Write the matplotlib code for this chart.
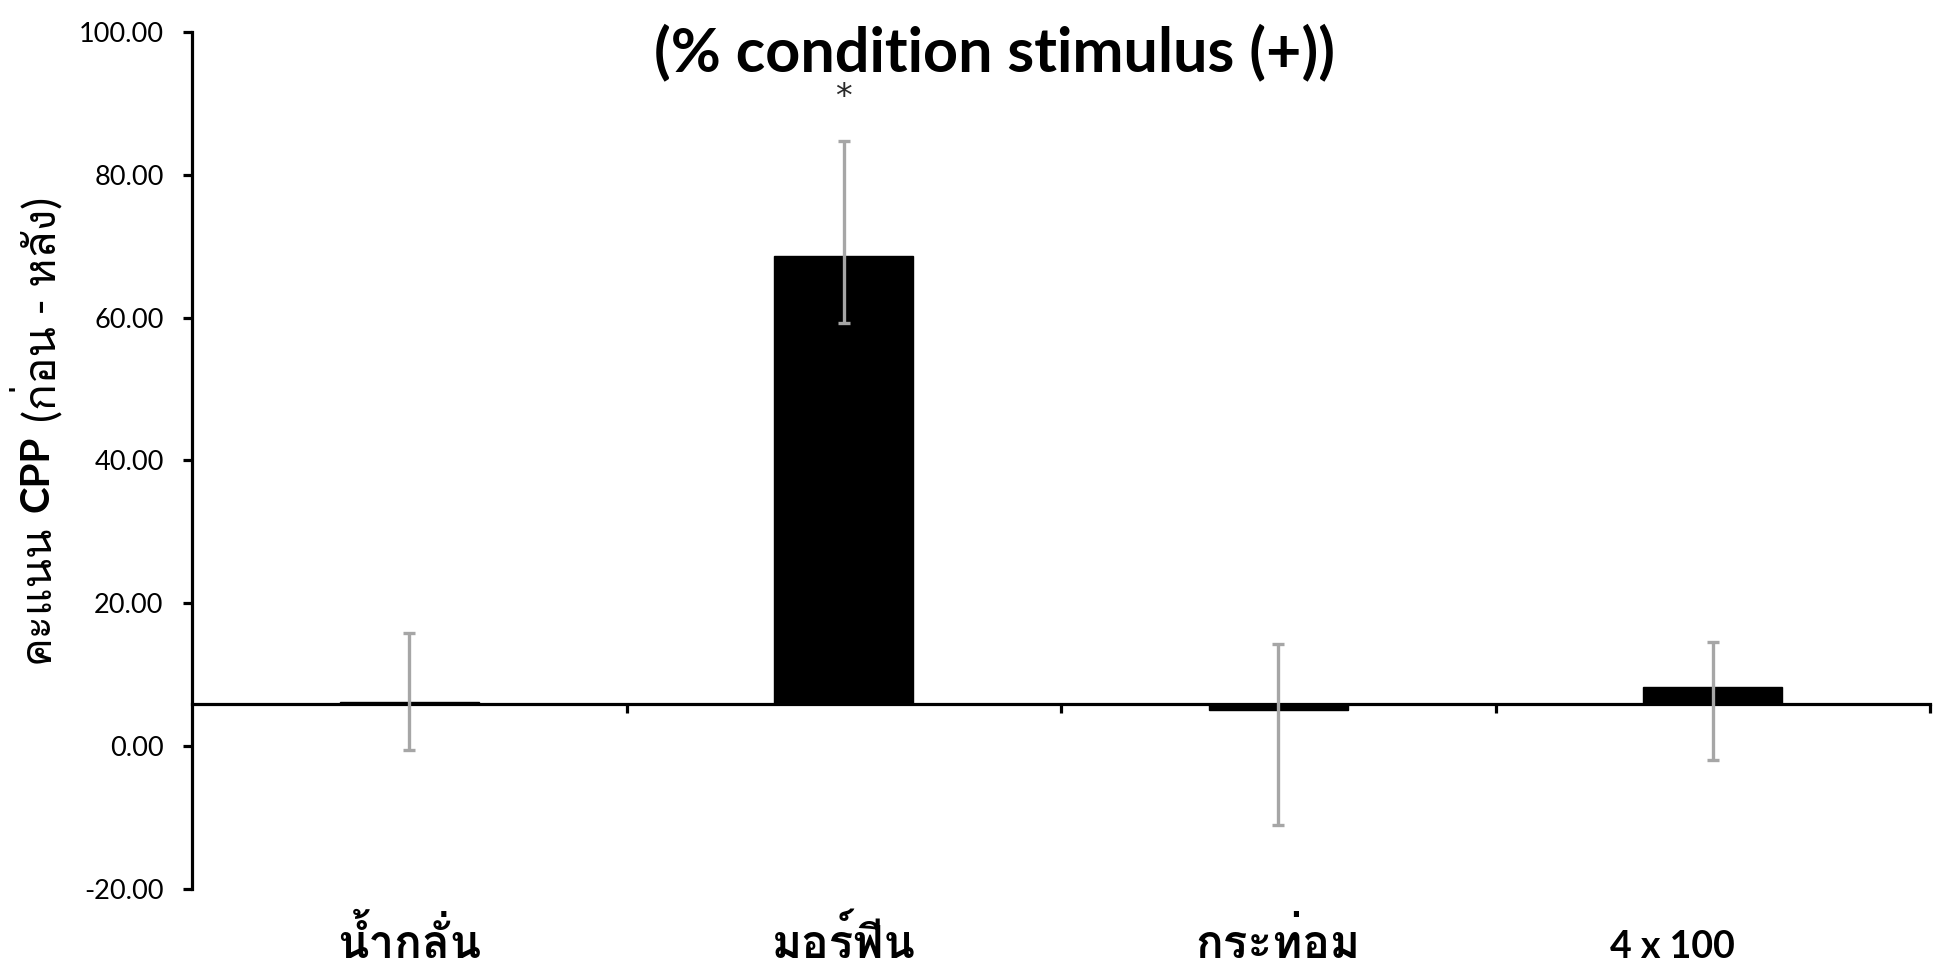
"""
CPP score bar chart (before - after), % condition stimulus (+)
"""

import numpy as np
import matplotlib
matplotlib.use('Agg')
import matplotlib.pyplot as plt
import matplotlib.transforms as mtransforms
from matplotlib import font_manager
from matplotlib.ft2font import FT2Font

# Data
groups = ['น้ำกลั่น', 'มอร์ฟีน', 'กระท่อม', '4 x 100']
scores = np.array([6.2, 68.7, 5.0, 8.3])
err_top = np.array([15.8, 84.7, 14.3, 14.6])
err_bottom = np.array([-0.6, 59.3, -11.0, -2.0])
axis_cross = 5.9
y_ticks = [-20, 0, 20, 40, 60, 80, 100]
significant = [False, True, False, False]


def find_thai_font():
    """Return the name of an installed font that has Thai glyphs."""
    for f in font_manager.fontManager.ttflist:
        try:
            if 0x0E01 in FT2Font(f.fname).get_charmap():
                return f.name
        except Exception:
            continue
    return None


def has_thai(s):
    return any(0x0E00 <= ord(c) <= 0x0E7F for c in s)


thai = find_thai_font()
families = ['Lato'] + ([thai] if thai else []) + ['DejaVu Sans']
plt.rcParams['font.family'] = families

fig = plt.figure(figsize=(19.46, 9.66), dpi=100)
ax = fig.add_axes([0.0987, 0.0797, 0.8931, 0.8872])

x = np.arange(len(groups))
ax.bar(x, scores - axis_cross, bottom=axis_cross, width=0.32,
       color='black', edgecolor='black', linewidth=1, zorder=2)
ax.errorbar(x, scores, yerr=[scores - err_bottom, err_top - scores],
            fmt='none', ecolor='#a6a6a6', elinewidth=2.4, capsize=4,
            capthick=2.4, zorder=3)

for xi, top, sig in zip(x, err_top, significant):
    if sig:
        ax.annotate('*', xy=(xi, top), xytext=(0, 25), textcoords='offset points',
                    ha='center', va='baseline', fontsize=24, color='#2a2a2a',
                    family='DejaVu Sans')

ax.set_xlim(-0.5, len(groups) - 0.5)
ax.set_ylim(-20, 100)
ax.set_yticks(y_ticks)
ax.set_yticklabels([f'{v:.2f}' for v in y_ticks], fontsize=19.5)

# category boundary ticks on the crossing line, labels kept at the bottom
ax.set_xticks(np.arange(len(groups)) + 0.5)
ax.set_xticklabels([])
ax.spines['top'].set_visible(False)
ax.spines['right'].set_visible(False)
ax.spines['bottom'].set_position(('data', axis_cross))
for s in ('left', 'bottom'):
    ax.spines[s].set_linewidth(2.3)
ax.tick_params(axis='both', direction='out', length=6.5, width=2.3, color='black')
ax.tick_params(axis='y', pad=14)

sec = ax.secondary_xaxis(0)
sec.set_xticks(x, labels=groups, fontweight='bold', va='baseline')
sec.tick_params(length=0, pad=50)
sec.spines['bottom'].set_visible(False)
for lbl in sec.get_xticklabels():
    if has_thai(lbl.get_text()):
        lbl.set_fontsize(33)
    else:
        lbl.set_fontsize(27)
        # the dose label sits a little left of its category centre
        lbl.set_transform(lbl.get_transform() +
                          mtransforms.ScaledTranslation(-0.4, 0, fig.dpi_scale_trans))

fig.text(0.511, 0.946, '(% condition stimulus (+))', fontsize=44, fontweight='bold',
         ha='center', va='center')

# y label with bold CPP in the middle
t1 = fig.text(0.019, 0.3137, 'คะแนน', rotation=90, ha='center', va='bottom', fontsize=31)
t2 = ax.annotate('CPP', xy=(0.5, 1), xycoords=t1, xytext=(0, 9), textcoords='offset points',
                 rotation=90, ha='center', va='bottom', fontsize=29, fontweight='bold',
                 annotation_clip=False)
t3 = ax.annotate('(ก่อน - หลัง)', xy=(0.5, 1), xycoords=t2, xytext=(0, 10),
                 textcoords='offset points', rotation=90, ha='center', va='bottom',
                 fontsize=32, annotation_clip=False)

fig.savefig('out.png', dpi=100)
